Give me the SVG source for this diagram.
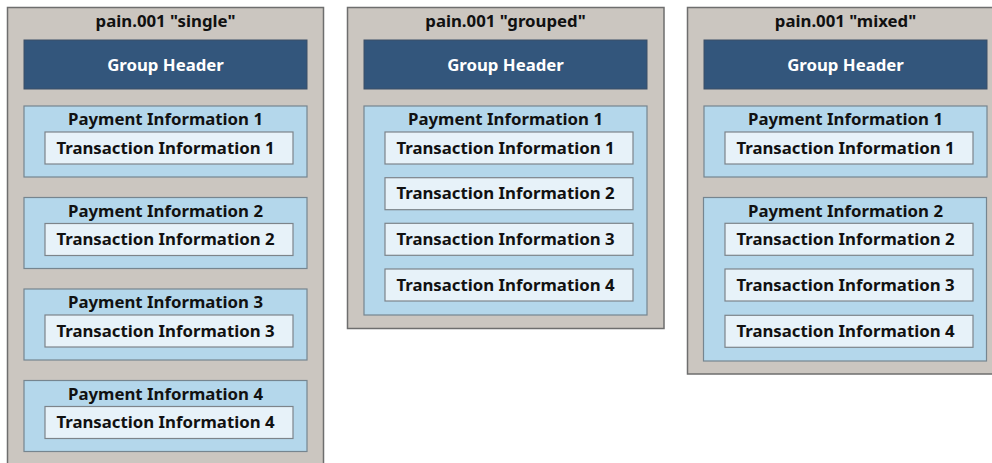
<svg xmlns="http://www.w3.org/2000/svg" width="992" height="463" viewBox="0 0 992 463">
<style>
text{font-family:"Noto Sans","Open Sans","DejaVu Sans",sans-serif;font-weight:bold;text-anchor:middle;fill:#111;font-size:16.8px}
.panel{fill:#cbc6c0;stroke:#6e6e6e;stroke-width:1.5}
.gh{fill:#33567c;stroke:#3d4f66;stroke-width:1}
.ghT{fill:#ffffff}
.pi{fill:#b4d7eb;stroke:#76858f;stroke-width:1.2}
.tx{fill:#e7f2f9;stroke:#7d848a;stroke-width:1.2}
</style>
<g id="single">
<rect class="panel" x="7.5" y="7.5" width="316" height="470"/>
<text x="165.5" y="27">pain.001 "single"</text>
<g id="single-gh"><rect class="gh" x="24" y="40" width="283" height="49"/><text class="ghT" x="165.5" y="71">Group Header</text></g>
<g id="single-pi1"><rect class="pi" x="24" y="106" width="283" height="71"/><text x="165.5" y="125">Payment Information 1</text>
<rect class="tx" x="45" y="132" width="248" height="32"/><text x="165.5" y="153.5">Transaction Information 1</text></g>
<g id="single-pi2"><rect class="pi" x="24" y="197.5" width="283" height="71"/><text x="165.5" y="216.5">Payment Information 2</text>
<rect class="tx" x="45" y="223.5" width="248" height="32"/><text x="165.5" y="245">Transaction Information 2</text></g>
<g id="single-pi3"><rect class="pi" x="24" y="289" width="283" height="71"/><text x="165.5" y="308">Payment Information 3</text>
<rect class="tx" x="45" y="315" width="248" height="32"/><text x="165.5" y="336.5">Transaction Information 3</text></g>
<g id="single-pi4"><rect class="pi" x="24" y="380.5" width="283" height="71"/><text x="165.5" y="399.5">Payment Information 4</text>
<rect class="tx" x="45" y="406.5" width="248" height="32"/><text x="165.5" y="428">Transaction Information 4</text></g>
</g>
<g id="grouped">
<rect class="panel" x="347.5" y="7.5" width="316.5" height="321"/>
<text x="505.5" y="27">pain.001 "grouped"</text>
<g id="grouped-gh"><rect class="gh" x="364" y="40" width="283" height="49"/><text class="ghT" x="505.5" y="71">Group Header</text></g>
<g id="grouped-pi1"><rect class="pi" x="364" y="106" width="283" height="209"/><text x="505.5" y="125">Payment Information 1</text>
<rect class="tx" x="385" y="132" width="248" height="32"/><text x="505.5" y="153.5">Transaction Information 1</text>
<rect class="tx" x="385" y="177.7" width="248" height="32"/><text x="505.5" y="199.2">Transaction Information 2</text>
<rect class="tx" x="385" y="223.3" width="248" height="32"/><text x="505.5" y="244.8">Transaction Information 3</text>
<rect class="tx" x="385" y="269" width="248" height="32"/><text x="505.5" y="290.5">Transaction Information 4</text></g>
</g>
<g id="mixed">
<rect class="panel" x="687.5" y="7.5" width="330" height="366.5"/>
<text x="845.5" y="27">pain.001 "mixed"</text>
<g id="mixed-gh"><rect class="gh" x="704" y="40" width="283" height="49"/><text class="ghT" x="845.5" y="71">Group Header</text></g>
<g id="mixed-pi1"><rect class="pi" x="704" y="106" width="283" height="71"/><text x="845.5" y="125">Payment Information 1</text>
<rect class="tx" x="725" y="132" width="248" height="32"/><text x="845.5" y="153.5">Transaction Information 1</text></g>
<g id="mixed-pi2"><rect class="pi" x="703.5" y="197.5" width="283" height="163.5"/><text x="845.5" y="216.5">Payment Information 2</text>
<rect class="tx" x="725" y="223.3" width="248" height="32"/><text x="845.5" y="244.8">Transaction Information 2</text>
<rect class="tx" x="725" y="269" width="248" height="32"/><text x="845.5" y="290.5">Transaction Information 3</text>
<rect class="tx" x="725" y="315.3" width="248" height="32"/><text x="845.5" y="336.8">Transaction Information 4</text></g>
</g>
<g id="connectors"/>
</svg>
